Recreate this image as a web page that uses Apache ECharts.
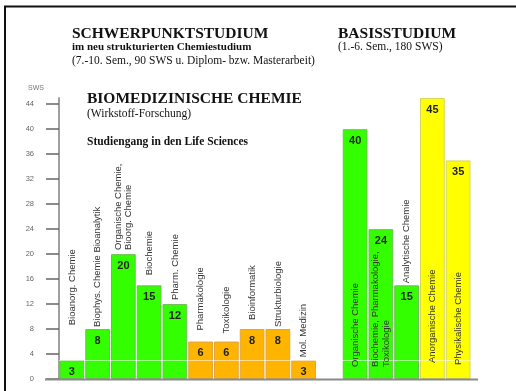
<!DOCTYPE html>
<html>
<head>
<meta charset="utf-8">
<script src="https://cdn.jsdelivr.net/npm/echarts@6/dist/echarts.min.js"></script>
<style>
html,body{margin:0;padding:0;background:#fff;}
#c{width:516px;height:391px;}
</style>
</head>
<body>
<div id="c"></div>
<script>
// ---- data ----
const categories = [
  'Bioanorg. Chemie',
  'Biophys. Chemie Bioanalytik',
  'Organische Chemie,\nBioorg. Chemie',
  'Biochemie',
  'Pharm. Chemie',
  'Pharmakologie',
  'Toxikologie',
  'Bioinformatik',
  'Strukturbiologie',
  'Mol. Medizin',
  '',
  'Organische Chemie',
  'Biochemie, Pharmakologie,\nToxikologie',
  'Analytische Chemie',
  'Anorganische Chemie',
  'Physikalische Chemie'
];
const sws = [3, 8, 20, 15, 12, 6, 6, 8, 8, 3, null, 40, 24, 15, 45, 35];
const groups = ['g','g','g','g','g','o','o','o','o','o','','g','g','g','y','y'];
const yTicks = [0, 4, 8, 12, 16, 20, 24, 28, 32, 36, 40, 44];

// ---- styling (not data) ----
const groupColor = { g: '#33ff00', o: '#ffb400', y: '#ffff00' };
const groupBorder = { g: '#6fbf55', o: '#e0a640', y: '#d6d65a' };
// name label placement: [position, distance]
const namePlacement = [
  ['top', 35], ['top', 2], ['top', 4], ['top', 10], ['top', 4],
  ['top', 11], ['top', 8], ['top', 9], ['top', 2], ['top', 3],
  ['top', 0],
  ['insideBottom', 12], ['insideBottom', 12], ['top', 2], ['insideBottom', 16], ['insideBottom', 14]
];

const barData = sws.map((v, i) => ({
  value: v,
  itemStyle: { color: groupColor[groups[i]] || 'transparent', borderColor: groupBorder[groups[i]] || 'transparent', borderWidth: 1 }
}));
const nameData = sws.map((v, i) => ({
  value: v,
  label: {
    position: namePlacement[i][0],
    distance: namePlacement[i][1]
  }
}));

const serif = '"Liberation Serif", "DejaVu Serif", serif';
const sans = '"Liberation Sans", Arial, sans-serif';

function t(text, left, top, size, bold) {
  return { text: text, left: left, top: top, padding: 0,
    textStyle: { fontFamily: serif, fontWeight: bold ? 'bold' : 'normal', fontSize: size, color: '#111' } };
}

const chart = echarts.init(document.getElementById('c'), null, { renderer: 'canvas' });
chart.setOption({
  animation: false,
  backgroundColor: '#fff',
  grid: { left: 59, right: 45, top: 98, bottom: 12, containLabel: false },
  title: [
    t('SCHWERPUNKTSTUDIUM', 72, 26, 15.5, true),
    t('im neu strukturierten Chemiestudium', 72, 42, 11, true),
    t('(7.-10. Sem., 90 SWS u. Diplom- bzw. Masterarbeit)', 72, 55, 11.5, false),
    t('BASISSTUDIUM', 338, 26, 15.5, true),
    t('(1.-6. Sem., 180 SWS)', 338, 41, 11.5, false),
    t('BIOMEDIZINISCHE CHEMIE', 87, 91, 15.5, true),
    t('(Wirkstoff-Forschung)', 87, 108, 11.5, false),
    t('Studiengang in den Life Sciences', 87, 136, 11.5, true)
  ],
  xAxis: {
    type: 'category',
    data: categories,
    axisLine: { show: false },
    axisTick: { show: false },
    axisLabel: { show: false },
    splitLine: { show: false }
  },
  yAxis: {
    type: 'value',
    min: 0,
    max: 45,
    interval: 4,
    name: 'SWS',
    nameLocation: 'end',
    nameGap: 6,
    nameTextStyle: { fontFamily: sans, fontSize: 7, color: '#777', align: 'right', padding: [0, 15, 0, 0] },
    axisLine: { show: true, lineStyle: { color: '#a0a0a0', width: 2 } },
    axisTick: { show: true, length: 13, customValues: yTicks, lineStyle: { color: '#666', width: 1.5 } },
    axisLabel: { show: true, margin: 25, customValues: yTicks, fontFamily: sans, fontSize: 7.5, color: '#666' },
    splitLine: { show: false }
  },
  series: [
    {
      type: 'bar',
      data: barData,
      barCategoryGap: '4%',
      barGap: '-100%',
      label: {
        show: true,
        position: 'insideTop',
        distance: 6,
        fontFamily: sans,
        fontWeight: 'bold',
        fontSize: 11,
        color: '#222',
        formatter: p => (p.value == null ? '' : String(p.value))
      },
      markLine: {
        silent: true,
        symbol: 'none',
        label: { show: false },
        lineStyle: { color: 'rgba(255,255,255,0.55)', width: 1, type: 'solid' },
        data: [{ yAxis: 3 }]
      }
    },
    {
      type: 'bar',
      data: nameData,
      barCategoryGap: '4%',
      barGap: '-100%',
      itemStyle: { color: 'transparent' },
      silent: true,
      z: 5,
      label: {
        show: true,
        rotate: 90,
        align: 'left',
        verticalAlign: 'middle',
        fontFamily: sans,
        fontSize: 9.5,
        lineHeight: 10.5,
        color: '#333',
        formatter: p => p.name
      }
    }
  ],
  graphic: [
    { type: 'line', shape: { x1: 4, y1: 6.5, x2: 516, y2: 6.5 }, style: { stroke: '#111', lineWidth: 2 } },
    { type: 'line', shape: { x1: 5, y1: 6, x2: 5, y2: 391 }, style: { stroke: '#111', lineWidth: 2 } },
    { type: 'line', shape: { x1: 45, y1: 379.5, x2: 478, y2: 379.5 }, style: { stroke: '#8a8a8a', lineWidth: 2 }, z: 10 }
  ]
});
</script>
</body>
</html>
